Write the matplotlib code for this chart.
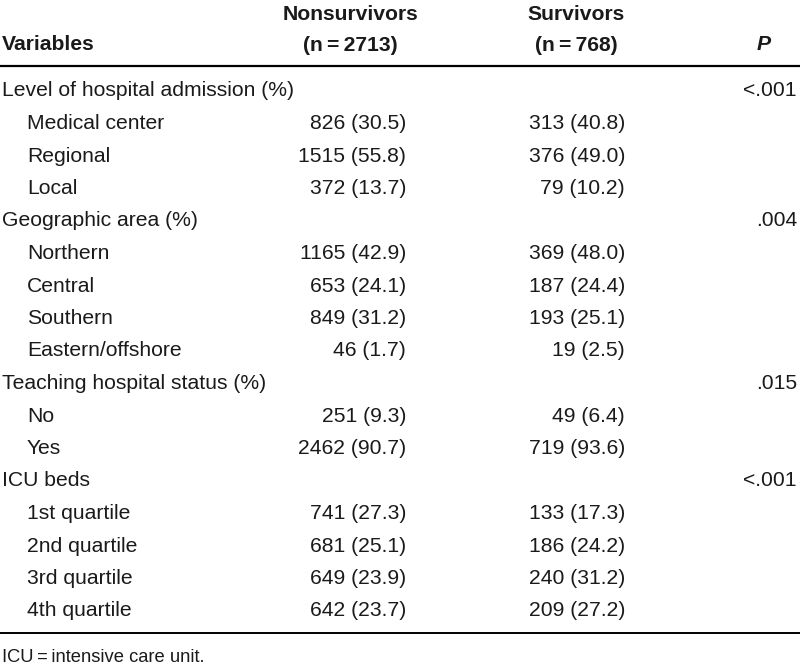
import matplotlib
matplotlib.use("Agg")
import matplotlib.pyplot as plt

# table content
row_labels = [
    "Level of hospital admission (%)", "Medical center", "Regional", "Local",
    "Geographic area (%)", "Northern", "Central", "Southern", "Eastern/offshore",
    "Teaching hospital status (%)", "No", "Yes",
    "ICU beds", "1st quartile", "2nd quartile", "3rd quartile", "4th quartile",
]
is_group = [True, False, False, False,
            True, False, False, False, False,
            True, False, False,
            True, False, False, False, False]
nonsurvivors = ["", "826 (30.5)", "1515 (55.8)", "372 (13.7)",
                "", "1165 (42.9)", "653 (24.1)", "849 (31.2)", "46 (1.7)",
                "", "251 (9.3)", "2462 (90.7)",
                "", "741 (27.3)", "681 (25.1)", "649 (23.9)", "642 (23.7)"]
survivors = ["", "313 (40.8)", "376 (49.0)", "79 (10.2)",
             "", "369 (48.0)", "187 (24.4)", "193 (25.1)", "19 (2.5)",
             "", "49 (6.4)", "719 (93.6)",
             "", "133 (17.3)", "186 (24.2)", "240 (31.2)", "209 (27.2)"]
p_values = ["<.001", "", "", "",
            ".004", "", "", "", "",
            ".015", "", "",
            "<.001", "", "", "", ""]
headers = ["Variables", "Nonsurvivors\n(n\u2009=\u20092713)", "Survivors\n(n\u2009=\u2009768)", "P"]
footnote = "ICU\u2009=\u2009intensive care unit."

plt.rcParams["font.family"] = ["Liberation Sans", "DejaVu Sans"]

W, H = 800, 670
fig = plt.figure(figsize=(8, 6.7), dpi=100)
ax = fig.add_axes([0, 0, 1, 1])
ax.set_xlim(0, W)
ax.set_ylim(H, 0)
ax.axis("off")

fs = 15.2
ink = "#1a1a1a"
col_non = 406
col_sur = 625
col_p = 797

# header
ax.text(2, 45, headers[0], ha="left", va="center", fontsize=fs, fontweight="bold", color=ink)
ax.text(350, 30, headers[1], ha="center", va="center", fontsize=fs,
        fontweight="bold", color=ink, linespacing=1.75)
ax.text(576, 30, headers[2], ha="center", va="center", fontsize=fs,
        fontweight="bold", color=ink, linespacing=1.75)
ax.text(col_p - 33, 45, headers[3], ha="center", va="center", fontsize=fs,
        fontweight="bold", style="italic", color=ink)

ax.plot([0, W], [66, 66], color="black", lw=1.6)

y0, dy = 91, 32.5
for i, lab in enumerate(row_labels):
    y = y0 + i * dy
    x = 2 if is_group[i] else 27
    ax.text(x, y, lab, ha="left", va="center", fontsize=fs, color=ink)
    ax.text(col_non, y, nonsurvivors[i], ha="right", va="center", fontsize=fs, color=ink)
    ax.text(col_sur, y, survivors[i], ha="right", va="center", fontsize=fs, color=ink)
    ax.text(col_p, y, p_values[i], ha="right", va="center", fontsize=fs, color=ink)

ax.plot([0, W], [633, 633], color="black", lw=1.4)
ax.text(2, 657, footnote, ha="left", va="center", fontsize=13.2, color=ink)

fig.savefig("out.png", dpi=100)
